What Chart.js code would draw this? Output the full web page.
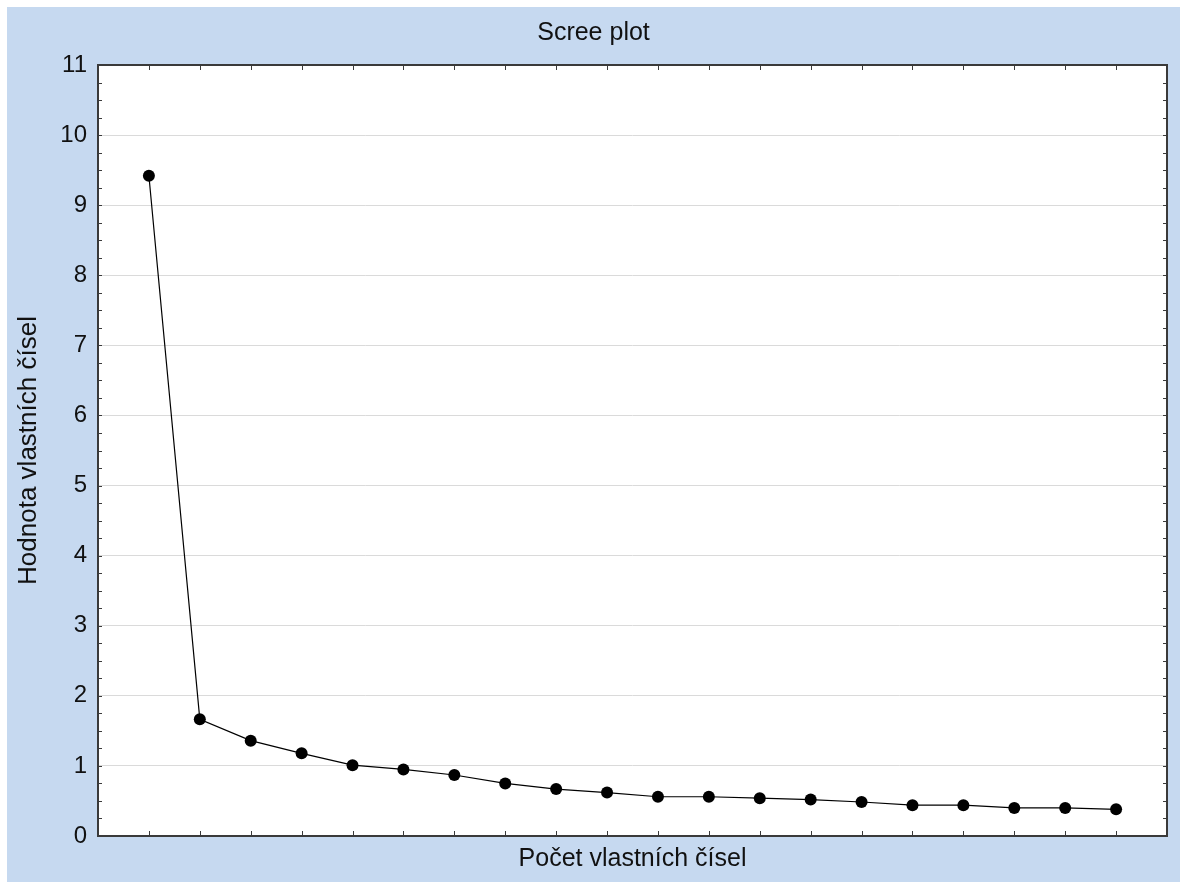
<!DOCTYPE html>
<html lang="cs">
<head>
  <meta charset="utf-8">
  <title>Scree plot</title>
  <script src="https://cdn.jsdelivr.net/npm/chart.js@4.4.0/dist/chart.umd.min.js"></script>
  <style>
    html, body { margin: 0; padding: 0; background: #fff; }
    #scree {
      position: absolute;
      left: 7px;
      top: 7px;
      background: #c6d9f0;
    }
  </style>
</head>
<body>
  <canvas id="scree" width="1173" height="875"></canvas>
  <script>
    // pořadí vlastních čísel a jejich hodnoty
    const eigenIndex = [1, 2, 3, 4, 5, 6, 7, 8, 9, 10, 11, 12, 13, 14, 15, 16, 17, 18, 19, 20];
    const eigenValues = [9.42, 1.665, 1.36, 1.18, 1.01, 0.95, 0.87, 0.75, 0.67, 0.62,
                         0.56, 0.56, 0.54, 0.52, 0.485, 0.44, 0.44, 0.40, 0.40, 0.38];
    const yTicks = [0, 1, 2, 3, 4, 5, 6, 7, 8, 9, 10, 11];

    const fontFamily = '"Liberation Sans", Arial, sans-serif';
    const frameColor = '#3a3a3a';

    // ramecek grafu + male carky na vsech ctyrech stranach
    const framePlugin = {
      id: 'frame',
      afterDraw(chart) {
        const { ctx, chartArea: a, scales } = chart;
        ctx.save();
        ctx.strokeStyle = frameColor;
        ctx.lineWidth = 1;
        ctx.beginPath();
        eigenIndex.forEach(i => {
          const px = Math.round(scales.x.getPixelForValue(i)) + 0.5;
          ctx.moveTo(px, a.bottom); ctx.lineTo(px, a.bottom - 5);
          ctx.moveTo(px, a.top); ctx.lineTo(px, a.top + 5);
        });
        for (let v = 0; v <= 11; v += 0.25) {
          const py = Math.round(scales.y.getPixelForValue(v)) + 0.5;
          ctx.moveTo(a.left, py); ctx.lineTo(a.left + 4, py);
          ctx.moveTo(a.right, py); ctx.lineTo(a.right - 4, py);
        }
        ctx.stroke();
        ctx.lineWidth = 2;
        ctx.strokeRect(a.left, a.top, a.right - a.left, a.bottom - a.top);
        ctx.restore();
      }
    };

    const plotBg = {
      id: 'plotBg',
      beforeDraw(chart) {
        const { ctx, chartArea: a } = chart;
        ctx.save();
        ctx.fillStyle = '#ffffff';
        ctx.fillRect(a.left, a.top, a.right - a.left, a.bottom - a.top);
        ctx.restore();
      }
    };

    const config = {
      type: 'scatter',
      data: {
        datasets: [{
          label: 'Vlastní čísla',
          data: eigenIndex.map((n, i) => ({ x: n, y: eigenValues[i] })),
          showLine: true,
          borderColor: '#000',
          borderWidth: 1.2,
          backgroundColor: '#000',
          pointRadius: 6,
          pointHoverRadius: 6,
          pointBorderWidth: 0
        }]
      },
      options: {
        responsive: false,
        animation: false,
        layout: { padding: 0 },
        plugins: {
          legend: { display: false },
          tooltip: { enabled: false },
          title: {
            display: true,
            text: 'Scree plot',
            color: '#111',
            font: { family: fontFamily, size: 25, weight: 'normal' },
            padding: { top: 11, bottom: 17 }
          }
        },
        scales: {
          x: {
            type: 'linear',
            min: 0,
            max: 21,
            grid: { display: false, drawTicks: false },
            border: { display: false },
            ticks: { display: false },
            title: {
              display: true,
              text: 'Počet vlastních čísel',
              color: '#111',
              font: { family: fontFamily, size: 25 },
              padding: { top: 0, bottom: 8 }
            },
            afterFit(scale) { scale.height = 46; }
          },
          y: {
            min: 0,
            max: 11,
            afterBuildTicks(scale) { scale.ticks = yTicks.map(v => ({ value: v })); },
            grid: { color: '#dadada', lineWidth: 1, drawTicks: false },
            border: { display: false },
            ticks: {
              color: '#111',
              padding: 11,
              font: { family: fontFamily, size: 24 }
            },
            title: {
              display: true,
              text: 'Hodnota vlastních čísel',
              color: '#111',
              font: { family: fontFamily, size: 26 },
              padding: { top: 6, bottom: 0 }
            },
            afterFit(scale) { scale.width = 91; }
          },
          // prazdna prava osa jen kvuli okraji vpravo
          yRight: {
            position: 'right',
            min: 0,
            max: 11,
            grid: { display: false, drawTicks: false },
            border: { display: false },
            ticks: { display: false },
            afterFit(scale) { scale.width = 13; }
          }
        }
      },
      plugins: [plotBg, framePlugin]
    };

    const screeChart = new Chart(document.getElementById('scree'), config);
  </script>
</body>
</html>
